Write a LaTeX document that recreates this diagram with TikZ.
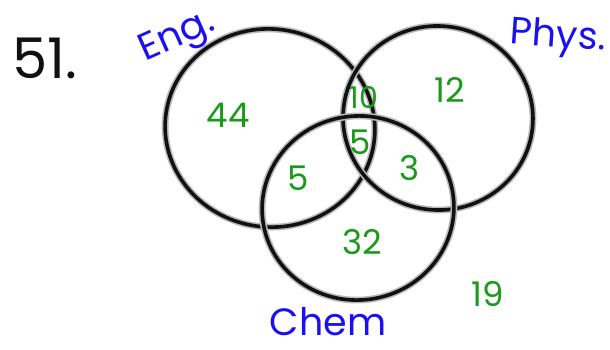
\documentclass[tikz,border=0pt]{standalone}
\usepackage{fontspec}
\setmainfont{Poppins}
\usetikzlibrary{shapes.geometric}
\definecolor{PenBlack}{HTML}{111111}
\definecolor{PenBlue}{HTML}{1A10F0}
\definecolor{PenGreen}{HTML}{1A9A1A}
\tikzset{
    % hand drawn sets
    set ring/.style={
        ellipse,
        draw=PenBlack,
        line width=1.8pt,
        inner sep=0pt,
        preaction={draw=gray!55, line width=3.4pt}
    },
    set name/.style={
        text=PenBlue,
        inner sep=1pt,
        font=\fontsize{19}{19}\selectfont
    },
    count/.style={
        text=PenGreen,
        inner sep=1pt,
        font=\fontsize{17}{17}\selectfont
    }
}
\begin{document}
\begin{tikzpicture}[x=0.5pt, y=-0.5pt]
    \useasboundingbox[fill=white] (0,0) rectangle (610,349);

    % the three sets
    \node[set ring, minimum width=105pt, minimum height=99pt, rotate=-8] (eng) at (270,128) {};
    \node[set ring, minimum width=95pt, minimum height=92pt, rotate=-6] (phys) at (438,118) {};
    \node[set ring, minimum width=96pt, minimum height=92pt, rotate=8] (chem) at (358,208) {};

    % problem number
    \node[text=PenBlack, font=\fontsize{28}{28}\selectfont] (num) at (45,58) {51.};

    % set names
    \node[set name, rotate=24] (engname) at (178,38) {Eng.};
    \node[set name, rotate=-4] (physname) at (558,38) {Phys.};
    \node[set name] (chemname) at (328,322) {Chem};

    % counts
    \node[count] (onlyeng) at (228,115) {44};
    \node[count, font=\fontsize{15}{15}\selectfont] (engphys) at (364,97) {10};
    \node[count] (onlyphys) at (450,90) {12};
    \node[count] (allthree) at (360,142) {5};
    \node[count] (engchem) at (298,178) {5};
    \node[count] (physchem) at (410,168) {3};
    \node[count] (onlychem) at (362,242) {32};
    \node[count] (none) at (488,294) {19};
\end{tikzpicture}
\end{document}
